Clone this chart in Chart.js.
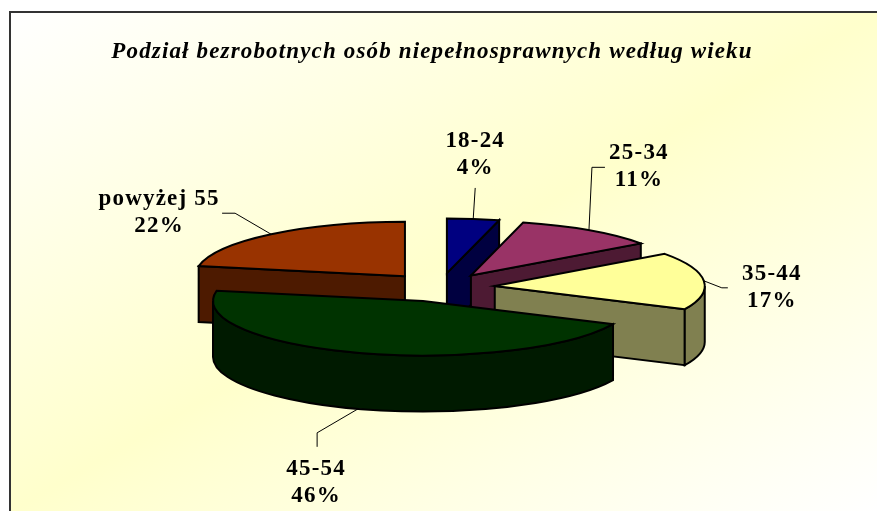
<!DOCTYPE html>
<html lang="pl">
<head>
<meta charset="utf-8">
<title>Podział bezrobotnych osób niepełnosprawnych według wieku</title>
<script src="https://cdn.jsdelivr.net/npm/chart.js@4"></script>
<style>
  html, body { margin: 0; padding: 0; background: #fff; overflow: hidden; }
  #wrap { position: relative; width: 877px; height: 511px; }
  #frame { position: absolute; left: 9px; top: 11px; right: 0; bottom: 0;
           border-left: 2px solid #333; border-top: 2px solid #333;
           background: linear-gradient(to bottom right, #ffffff 0%, #ffffcc 50%, #ffffff 100%); }
  canvas { position: absolute; left: 0; top: 0; }
</style>
</head>
<body>
<div id="wrap"><div id="frame"></div><canvas id="c" width="877" height="511"></canvas></div>
<script>
const titleText = 'Podział bezrobotnych osób niepełnosprawnych według wieku';
const categories = ['18-24', '25-34', '35-44', '45-54', 'powyżej 55'];
const shares = [4, 11, 17, 46, 22];
const topColors = ['#000080', '#993366', '#FFFF99', '#003300', '#993300'];
const sideColors = ['#000040', '#4D1A33', '#808050', '#001A00', '#4D1A00'];

const SERIF = '"Liberation Serif", "Times New Roman", serif';
const squash = 0.26, depth = 56, explode = 55, shiftX = 8;
const paintOrder = [4, 0, 1, 2, 3];
// leader elbows, then label centre, relative to the slice's rim midpoint
const leaders = [
  { path: [[2, -31]], label: [2, -64] },
  { path: [[3, -63], [16, -63]], label: [50, -64] },
  { path: [[18, 7], [24, 7]], label: [68, 7] },
  { path: [[-41, 24], [-41, 38]], label: [-42, 74] },
  { path: [[-36, -21], [-49, -21]], label: [-112, -22] }
];

function geometry(arc) {
  const p = arc.getProps(['x', 'y', 'startAngle', 'endAngle', 'outerRadius'], true);
  const mid = (p.startAngle + p.endAngle) / 2;
  const ex = Math.cos(mid) * explode + shiftX;
  const ey = Math.sin(mid) * explode * squash;
  return { cx: p.x + ex, cy: p.y + ey, ex, ey, a: p.startAngle, b: p.endAngle, mid, R: p.outerRadius, baseY: p.y };
}
const rim = (g, t) => [g.cx + g.R * Math.cos(t), g.cy + g.R * squash * Math.sin(t)];

function radialWall(ctx, g, t) {
  const [x, y] = rim(g, t);
  ctx.beginPath();
  ctx.moveTo(g.cx, g.cy);
  ctx.lineTo(x, y);
  ctx.lineTo(x, y + depth);
  ctx.lineTo(g.cx, g.cy + depth);
  ctx.closePath();
  ctx.fill(); ctx.stroke();
}
function curvedWall(ctx, g) {
  // visible front part of the rim: normalised angle between 0 and PI
  const TAU = Math.PI * 2;
  for (const k of [-1, 0, 1]) {
    const from = Math.max(g.a, k * TAU), to = Math.min(g.b, k * TAU + Math.PI);
    if (to <= from) continue;
    const ry = g.R * squash;
    ctx.beginPath();
    ctx.ellipse(g.cx, g.cy, g.R, ry, 0, from, to);
    ctx.ellipse(g.cx, g.cy + depth, g.R, ry, 0, to, from, true);
    ctx.closePath();
    ctx.fill(); ctx.stroke();
  }
}

const pie3d = {
  id: 'pie3d',
  beforeDraw(chart) { chart.ctx.letterSpacing = '1.15px'; },
  beforeDatasetDraw(chart) {
    const ctx = chart.ctx, arcs = chart.getDatasetMeta(0).data;
    ctx.lineWidth = 2;
    ctx.lineJoin = 'miter';
    ctx.strokeStyle = '#000';
    for (const i of paintOrder) {
      const arc = arcs[i], g = geometry(arc);
      ctx.fillStyle = sideColors[i];
      if (Math.cos(g.a) < -1e-6) radialWall(ctx, g, g.a);
      if (Math.cos(g.b) > 1e-6) radialWall(ctx, g, g.b);
      curvedWall(ctx, g);
      // the slice top: drawn by the library's arc element, squashed into perspective
      ctx.save();
      ctx.translate(g.ex, g.baseY + g.ey);
      ctx.scale(1, squash);
      ctx.translate(0, -g.baseY);
      arc.draw(ctx);
      ctx.restore();
      ctx.beginPath();
      ctx.moveTo(g.cx, g.cy);
      ctx.ellipse(g.cx, g.cy, g.R, g.R * squash, 0, g.a, g.b);
      ctx.closePath();
      ctx.stroke();
    }
    return false;
  },
  afterDatasetsDraw(chart) {
    const ctx = chart.ctx, arcs = chart.getDatasetMeta(0).data;
    ctx.save();
    ctx.textAlign = 'center';
    ctx.textBaseline = 'middle';
    ctx.font = 'bold 23px ' + SERIF;
    ctx.letterSpacing = '1.2px';
    arcs.forEach((arc, i) => {
      const g = geometry(arc);
      const [x, y0] = rim(g, g.mid);
      const y = y0 + (Math.sin(g.mid) > 0 ? depth : 0);
      ctx.beginPath();
      ctx.moveTo(x, y);
      for (const [dx, dy] of leaders[i].path) ctx.lineTo(x + dx, y + dy);
      ctx.lineWidth = 1;
      ctx.strokeStyle = '#000';
      ctx.stroke();
      const [lx, ly] = leaders[i].label;
      ctx.fillStyle = '#000';
      ctx.fillText(categories[i], x + lx, y + ly - 13.5);
      ctx.fillText(shares[i] + '%', x + lx, y + ly + 13.5);
    });
    ctx.restore();
  }
};

new Chart(document.getElementById('c'), {
  type: 'pie',
  data: {
    labels: categories,
    datasets: [{ data: shares, backgroundColor: topColors, borderWidth: 0 }]
  },
  options: {
    responsive: false,
    animation: false,
    radius: 210,
    layout: { padding: { top: 34, left: 0, right: 13, bottom: 2 } },
    plugins: {
      legend: { display: false },
      tooltip: { enabled: false },
      title: {
        display: true,
        text: titleText,
        color: '#000',
        font: { family: SERIF, size: 23, style: 'italic', weight: 'bold', lineHeight: 1.2 },
        padding: { top: 4, bottom: 0 }
      }
    }
  },
  plugins: [pie3d]
});
</script>
</body>
</html>
